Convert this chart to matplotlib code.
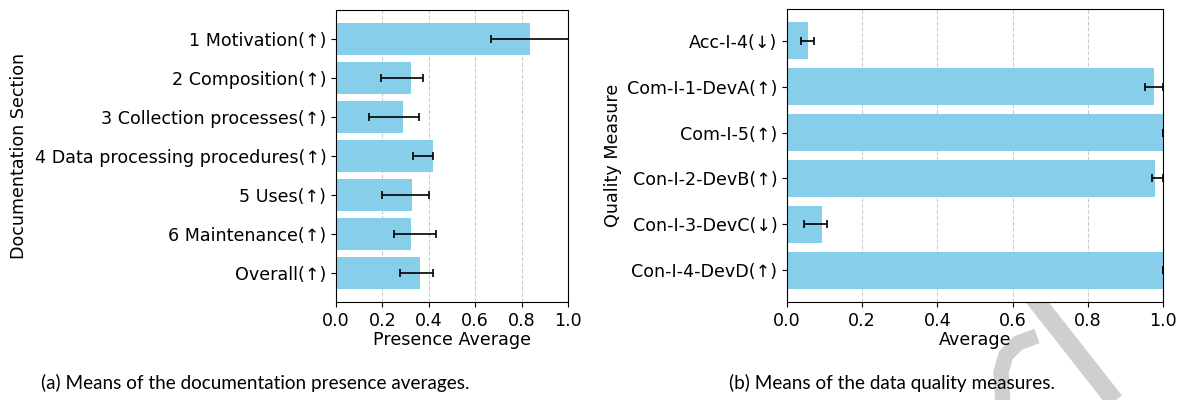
import numpy as np
import matplotlib
matplotlib.use('Agg')
import matplotlib.pyplot as plt
from matplotlib.lines import Line2D

plt.rcParams['font.family'] = ['DejaVu Sans']

# (a) documentation presence averages
sections = ['1 Motivation(↑)', '2 Composition(↑)', '3 Collection processes(↑)',
            '4 Data processing procedures(↑)', '5 Uses(↑)', '6 Maintenance(↑)', 'Overall(↑)']
presence_mean = [0.836, 0.323, 0.289, 0.418, 0.328, 0.323, 0.362]
presence_low = [0.668, 0.196, 0.142, 0.333, 0.200, 0.249, 0.276]
presence_high = [1.01, 0.375, 0.358, 0.418, 0.401, 0.430, 0.418]

# (b) data quality measures
measures = ['Acc-I-4(↓)', 'Com-I-1-DevA(↑)', 'Com-I-5(↑)',
            'Con-I-2-DevB(↑)', 'Con-I-3-DevC(↓)', 'Con-I-4-DevD(↑)']
quality_mean = [0.055, 0.975, 1.0, 0.978, 0.092, 1.0]
quality_low = [0.036, 0.952, 1.0, 0.971, 0.045, 1.0]
quality_high = [0.071, 1.0, 1.0, 1.0, 0.107, 1.0]

BAR = '#87CEEB'
FS = 12.6


def draw_panel(ax, labels, mean, low, high, xlabel, ylabel, ylabel_x):
    y = np.arange(len(labels))
    mean = np.array(mean)
    xerr = [mean - np.array(low), np.array(high) - mean]
    ax.barh(y, mean, height=0.8, color=BAR, xerr=xerr, capsize=3,
            error_kw=dict(ecolor='black', elinewidth=1.2, capthick=1.2), zorder=2)
    ax.set_yticks(y)
    ax.set_yticklabels(labels, fontsize=FS)
    ax.invert_yaxis()
    ax.set_xlim(0, 1)
    ax.set_xticks(np.arange(0, 1.01, 0.2))
    ax.tick_params(axis='x', labelsize=FS)
    ax.set_xlabel(xlabel, fontsize=FS, labelpad=1)
    ax.set_ylabel(ylabel, fontsize=FS)
    ax.yaxis.set_label_coords(ylabel_x, 0.5)
    ax.grid(axis='x', linestyle='--', color='#cccccc', linewidth=0.8, zorder=0)
    ax.set_axisbelow(True)


fig = plt.figure(figsize=(11.85, 4), dpi=100)

# watermark stroke behind everything
fig.add_artist(Line2D([1026 / 1185, 1118 / 1185], [1 - 288 / 400, 1 - 405 / 400],
                      color='#cfcfcf', linewidth=13, solid_capstyle='butt', zorder=0))
fig.add_artist(Line2D([1037 / 1185, 1018 / 1185, 1006 / 1185, 1001 / 1185, 1003 / 1185],
                      [1 - 336 / 400, 1 - 343 / 400, 1 - 355 / 400, 1 - 372 / 400, 1 - 405 / 400],
                      color='#cfcfcf', linewidth=11, solid_capstyle='butt', zorder=0))

ax1 = fig.add_axes([336 / 1185, 98 / 400, 232 / 1185, 292 / 400])
draw_panel(ax1, sections, presence_mean, presence_low, presence_high,
           'Presence Average', 'Documentation Section', -1.327)

ax2 = fig.add_axes([787 / 1185, 98 / 400, 376 / 1185, 293 / 400])
draw_panel(ax2, measures, quality_mean, quality_low, quality_high,
           'Average', 'Quality Measure', -0.44)

fig.text(255 / 1185, 17 / 400, '(a) Means of the documentation presence averages.',
         ha='center', va='center', fontsize=13.6, family='Lato')
fig.text(892 / 1185, 17 / 400, '(b) Means of the data quality measures.',
         ha='center', va='center', fontsize=13.6, family='Lato')

fig.savefig('out.png', dpi=100)
